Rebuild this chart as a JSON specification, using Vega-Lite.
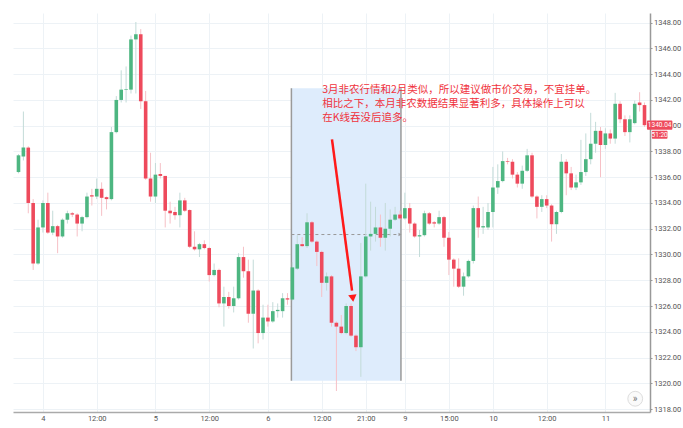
{
  "$schema": "https://vega.github.io/schema/vega-lite/v6.json",
  "width": 637,
  "height": 399,
  "autosize": {"type": "none"},
  "padding": {"left": 13, "top": 13, "right": 33, "bottom": 16},
  "background": "white",
  "config": {
    "view": {"stroke": null},
    "font": "Roboto",
    "axis": {"labelFont": "Roboto", "labelFontSize": 7.5, "labelColor": "#555", "gridColor": "#edf2f6", "gridWidth": 1, "labelOverlap": false}
  },
  "datasets": {
    "candles": [
      {"i":1,"o":1336.4,"c":1337.7,"h":1337.8,"l":1336.3},
      {"i":2,"o":1337.6,"c":1338.3,"h":1341.1,"l":1337.3},
      {"i":3,"o":1338.3,"c":1334.0,"h":1338.4,"l":1333.2},
      {"i":4,"o":1334.0,"c":1329.3,"h":1334.3,"l":1328.8},
      {"i":5,"o":1329.3,"c":1332.1,"h":1332.7,"l":1329.2},
      {"i":6,"o":1332.1,"c":1334.0,"h":1334.2,"l":1331.7},
      {"i":7,"o":1334.0,"c":1331.7,"h":1334.8,"l":1331.6},
      {"i":8,"o":1331.7,"c":1332.2,"h":1333.4,"l":1331.5},
      {"i":9,"o":1332.2,"c":1331.4,"h":1332.3,"l":1330.1},
      {"i":10,"o":1331.4,"c":1332.7,"h":1332.8,"l":1331.3},
      {"i":11,"o":1332.7,"c":1333.2,"h":1333.4,"l":1332.4},
      {"i":12,"o":1333.2,"c":1333.1,"h":1333.3,"l":1332.9},
      {"i":13,"o":1333.1,"c":1332.4,"h":1333.2,"l":1331.4},
      {"i":14,"o":1332.4,"c":1332.9,"h":1333.0,"l":1331.8},
      {"i":15,"o":1332.9,"c":1334.5,"h":1334.8,"l":1332.8},
      {"i":16,"o":1334.6,"c":1334.5,"h":1335.1,"l":1333.8},
      {"i":17,"o":1334.5,"c":1335.1,"h":1335.9,"l":1334.3},
      {"i":18,"o":1335.1,"c":1334.4,"h":1335.6,"l":1333.0},
      {"i":19,"o":1334.45,"c":1334.3,"h":1334.5,"l":1333.5},
      {"i":20,"o":1334.3,"c":1339.5,"h":1339.9,"l":1334.2},
      {"i":21,"o":1339.5,"c":1342.0,"h":1342.3,"l":1339.4},
      {"i":22,"o":1342.0,"c":1342.8,"h":1344.3,"l":1341.8},
      {"i":23,"o":1342.8,"c":1342.85,"h":1344.6,"l":1341.8},
      {"i":24,"o":1342.8,"c":1346.7,"h":1347.0,"l":1342.5},
      {"i":25,"o":1346.7,"c":1347.1,"h":1348.05,"l":1342.5},
      {"i":26,"o":1347.1,"c":1341.9,"h":1347.5,"l":1341.3},
      {"i":27,"o":1341.9,"c":1335.9,"h":1342.7,"l":1335.8},
      {"i":28,"o":1335.9,"c":1334.5,"h":1337.9,"l":1334.1},
      {"i":29,"o":1334.5,"c":1336.2,"h":1337.1,"l":1334.0},
      {"i":30,"o":1336.25,"c":1336.1,"h":1337.1,"l":1335.9},
      {"i":31,"o":1336.1,"c":1333.4,"h":1336.1,"l":1332.1},
      {"i":32,"o":1333.4,"c":1333.2,"h":1334.1,"l":1332.4},
      {"i":33,"o":1333.3,"c":1333.05,"h":1333.7,"l":1332.7},
      {"i":34,"o":1333.05,"c":1334.2,"h":1334.8,"l":1332.1},
      {"i":35,"o":1334.2,"c":1333.4,"h":1334.4,"l":1333.3},
      {"i":36,"o":1333.45,"c":1330.6,"h":1333.5,"l":1330.5},
      {"i":37,"o":1330.6,"c":1330.4,"h":1331.8,"l":1330.3},
      {"i":38,"o":1330.4,"c":1330.8,"h":1330.9,"l":1329.8},
      {"i":39,"o":1330.8,"c":1330.5,"h":1331.1,"l":1330.4},
      {"i":40,"o":1330.5,"c":1328.4,"h":1330.6,"l":1327.9},
      {"i":41,"o":1328.4,"c":1328.8,"h":1329.3,"l":1328.3},
      {"i":42,"o":1328.8,"c":1326.2,"h":1328.9,"l":1325.9},
      {"i":43,"o":1326.2,"c":1326.7,"h":1327.5,"l":1324.4},
      {"i":44,"o":1326.7,"c":1326.0,"h":1327.1,"l":1325.8},
      {"i":45,"o":1326.0,"c":1326.6,"h":1327.5,"l":1325.5},
      {"i":46,"o":1326.6,"c":1329.8,"h":1330.1,"l":1326.5},
      {"i":47,"o":1329.8,"c":1328.7,"h":1330.6,"l":1328.2},
      {"i":48,"o":1328.7,"c":1325.4,"h":1329.6,"l":1324.7},
      {"i":49,"o":1325.4,"c":1327.2,"h":1329.6,"l":1322.7},
      {"i":50,"o":1327.2,"c":1323.9,"h":1327.3,"l":1323.1},
      {"i":51,"o":1323.9,"c":1325.1,"h":1326.1,"l":1323.4},
      {"i":52,"o":1325.1,"c":1324.8,"h":1326.1,"l":1324.4},
      {"i":53,"o":1324.8,"c":1325.6,"h":1326.3,"l":1324.7},
      {"i":54,"o":1325.6,"c":1325.7,"h":1326.2,"l":1325.1},
      {"i":55,"o":1325.6,"c":1326.6,"h":1327.0,"l":1325.1},
      {"i":56,"o":1326.6,"c":1326.5,"h":1327.0,"l":1326.1},
      {"i":57,"o":1326.5,"c":1329.0,"h":1329.4,"l":1326.4},
      {"i":58,"o":1328.9,"c":1330.8,"h":1331.5,"l":1328.8},
      {"i":59,"o":1330.8,"c":1330.65,"h":1331.35,"l":1330.6},
      {"i":60,"o":1330.65,"c":1332.5,"h":1333.2,"l":1330.5},
      {"i":61,"o":1332.5,"c":1331.0,"h":1332.6,"l":1330.9},
      {"i":62,"o":1331.0,"c":1330.2,"h":1331.1,"l":1329.1},
      {"i":63,"o":1330.2,"c":1327.8,"h":1330.3,"l":1326.7},
      {"i":64,"o":1327.8,"c":1328.3,"h":1328.6,"l":1327.2},
      {"i":65,"o":1328.3,"c":1324.7,"h":1328.4,"l":1324.4},
      {"i":66,"o":1324.7,"c":1324.4,"h":1324.8,"l":1319.4},
      {"i":67,"o":1324.4,"c":1323.9,"h":1325.3,"l":1323.8},
      {"i":68,"o":1323.9,"c":1326.0,"h":1326.2,"l":1323.8},
      {"i":69,"o":1326.0,"c":1323.7,"h":1326.2,"l":1323.6},
      {"i":70,"o":1323.7,"c":1322.8,"h":1323.8,"l":1322.5},
      {"i":71,"o":1322.8,"c":1328.3,"h":1330.9,"l":1320.5},
      {"i":72,"o":1328.3,"c":1331.4,"h":1335.5,"l":1328.2},
      {"i":73,"o":1331.4,"c":1331.6,"h":1334.1,"l":1330.3},
      {"i":74,"o":1331.6,"c":1332.1,"h":1333.7,"l":1331.0},
      {"i":75,"o":1332.1,"c":1331.3,"h":1333.1,"l":1330.6},
      {"i":76,"o":1331.3,"c":1332.0,"h":1334.0,"l":1330.3},
      {"i":77,"o":1332.0,"c":1332.7,"h":1333.5,"l":1331.4},
      {"i":78,"o":1332.7,"c":1333.1,"h":1333.7,"l":1332.6},
      {"i":79,"o":1333.1,"c":1332.8,"h":1333.4,"l":1332.7},
      {"i":80,"o":1332.8,"c":1333.6,"h":1334.8,"l":1332.7},
      {"i":81,"o":1333.6,"c":1332.4,"h":1334.0,"l":1331.7},
      {"i":82,"o":1332.4,"c":1331.4,"h":1332.5,"l":1331.3},
      {"i":83,"o":1331.4,"c":1331.5,"h":1331.9,"l":1329.8},
      {"i":84,"o":1331.5,"c":1333.2,"h":1333.4,"l":1331.4},
      {"i":85,"o":1333.2,"c":1332.4,"h":1333.3,"l":1332.3},
      {"i":86,"o":1332.5,"c":1332.4,"h":1332.6,"l":1332.1},
      {"i":87,"o":1332.4,"c":1332.9,"h":1333.4,"l":1332.3},
      {"i":88,"o":1332.9,"c":1331.3,"h":1333.0,"l":1330.6},
      {"i":89,"o":1331.3,"c":1329.6,"h":1331.75,"l":1328.4},
      {"i":90,"o":1329.6,"c":1328.9,"h":1329.7,"l":1327.5},
      {"i":91,"o":1328.9,"c":1327.5,"h":1329.7,"l":1327.4},
      {"i":92,"o":1327.5,"c":1328.3,"h":1328.6,"l":1326.8},
      {"i":93,"o":1328.3,"c":1329.5,"h":1329.6,"l":1328.2},
      {"i":94,"o":1329.5,"c":1333.6,"h":1333.8,"l":1329.3},
      {"i":95,"o":1333.6,"c":1332.1,"h":1334.5,"l":1331.3},
      {"i":96,"o":1332.1,"c":1332.2,"h":1333.7,"l":1331.6},
      {"i":97,"o":1332.1,"c":1333.3,"h":1334.0,"l":1331.9},
      {"i":98,"o":1333.3,"c":1335.2,"h":1336.8,"l":1332.1},
      {"i":99,"o":1335.2,"c":1335.7,"h":1337.0,"l":1334.7},
      {"i":100,"o":1335.7,"c":1337.25,"h":1338.0,"l":1335.6},
      {"i":101,"o":1337.25,"c":1337.2,"h":1337.5,"l":1337.0},
      {"i":102,"o":1337.2,"c":1336.2,"h":1337.4,"l":1335.9},
      {"i":103,"o":1336.2,"c":1335.5,"h":1336.4,"l":1335.2},
      {"i":104,"o":1335.5,"c":1336.5,"h":1336.9,"l":1335.1},
      {"i":105,"o":1336.5,"c":1337.7,"h":1338.2,"l":1336.4},
      {"i":106,"o":1337.7,"c":1334.5,"h":1337.9,"l":1334.4},
      {"i":107,"o":1334.5,"c":1333.7,"h":1334.6,"l":1332.8},
      {"i":108,"o":1333.7,"c":1334.3,"h":1334.6,"l":1333.3},
      {"i":109,"o":1334.3,"c":1333.8,"h":1334.6,"l":1333.6},
      {"i":110,"o":1333.8,"c":1332.35,"h":1333.9,"l":1331.0},
      {"i":111,"o":1332.35,"c":1333.3,"h":1333.4,"l":1331.6},
      {"i":112,"o":1333.3,"c":1337.2,"h":1337.8,"l":1333.2},
      {"i":113,"o":1337.2,"c":1336.3,"h":1337.4,"l":1334.6},
      {"i":114,"o":1336.3,"c":1335.2,"h":1336.8,"l":1335.0},
      {"i":115,"o":1335.2,"c":1335.6,"h":1336.2,"l":1335.0},
      {"i":116,"o":1335.6,"c":1336.4,"h":1338.9,"l":1335.4},
      {"i":117,"o":1336.4,"c":1337.4,"h":1339.4,"l":1336.1},
      {"i":118,"o":1337.4,"c":1338.6,"h":1341.0,"l":1337.0},
      {"i":119,"o":1338.6,"c":1339.6,"h":1340.3,"l":1337.9},
      {"i":120,"o":1339.6,"c":1338.5,"h":1339.9,"l":1336.0},
      {"i":121,"o":1338.5,"c":1339.4,"h":1339.8,"l":1338.2},
      {"i":122,"o":1339.4,"c":1339.0,"h":1339.7,"l":1338.6},
      {"i":123,"o":1339.0,"c":1341.7,"h":1342.55,"l":1338.6},
      {"i":124,"o":1341.7,"c":1340.5,"h":1341.9,"l":1340.2},
      {"i":125,"o":1340.5,"c":1339.5,"h":1340.8,"l":1339.2},
      {"i":126,"o":1339.5,"c":1340.5,"h":1340.8,"l":1338.7},
      {"i":127,"o":1340.2,"c":1341.7,"h":1341.95,"l":1340.1},
      {"i":128,"o":1341.8,"c":1341.6,"h":1342.6,"l":1341.1},
      {"i":129,"o":1341.6,"c":1340.04,"h":1341.8,"l":1339.9}
    ],
    "box": [{"x1": 56.8, "x2": 79.2, "y1": 1320.2, "y2": 1342.9}],
    "dash": [{"x1": 56.8, "x2": 79.0, "y": 1331.55}],
    "arrow": [{"x": 65.1, "y": 1338.94, "k": 0}, {"x": 69.2, "y": 1327.2, "k": 1}],
    "head": [{"x": 69.35, "y": 1326.6}],
    "note": [
      {"x": 63.1, "y": 1342.78, "t": "3月非农行情和2月类似，所以建议做市价交易，不宜挂单。"},
      {"x": 63.1, "y": 1341.70, "t": "相比之下，本月非农数据结果显著利多，具体操作上可以"},
      {"x": 63.1, "y": 1340.61, "t": "在K线吞没后追多。"}
    ],
    "tags": [
      {"x1": 129.5, "x2": 134.7, "y1": 1340.4, "y2": 1339.68, "xm": 132.1, "ym": 1340.04, "t": "1340.04"},
      {"x1": 130.5, "x2": 133.7, "y1": 1339.6, "y2": 1338.98, "xm": 132.1, "ym": 1339.29, "t": "51:20"}
    ],
    "btn": [{"x": 127.1, "y": 1318.8}]
  },
  "layer": [
    {
      "data": {"name": "box"},
      "mark": {"type": "rect", "color": "#deecfc"},
      "encoding": {
        "x": {"field": "x1", "type": "quantitative", "scale": {"domain": [0.9, 129.1], "nice": false, "zero": false},
          "axis": {"values": [6,17,29,40,52,63,72,80,89,98,109,121], "tickCount": 40, "labelExpr": "['4','12:00','5','12:00','6','12:00','21:00','9','15:00','10','12:00','11'][indexof([6,17,29,40,52,63,72,80,89,98,109,121], datum.value)]", "title": null, "grid": true, "ticks": false, "domainColor": "#aaa", "domainWidth": 1.5, "labelPadding": 2, "labelFlush": false, "labelOverlap": false}},
        "x2": {"field": "x2"},
        "y": {"field": "y1", "type": "quantitative", "scale": {"domain": [1317.77, 1348.75], "nice": false, "zero": false},
          "axis": {"orient": "right", "values": [1318,1320,1322,1324,1326,1328,1330,1332,1334,1336,1338,1340,1342,1344,1346,1348], "tickCount": 40, "format": ".2f", "title": null, "grid": true, "ticks": true, "tickSize": 2, "tickColor": "#999", "domainColor": "#999", "domainWidth": 1.5, "labelPadding": 1.5, "labelOverlap": false, "labelFlush": false}},
        "y2": {"field": "y2"}
      }
    },
    {
      "data": {"name": "box"},
      "mark": {"type": "rule", "color": "#9a9a9a", "strokeWidth": 1.5},
      "encoding": {"x": {"field": "x1", "type": "quantitative"}, "y": {"field": "y1", "type": "quantitative"}, "y2": {"field": "y2"}}
    },
    {
      "data": {"name": "box"},
      "mark": {"type": "rule", "color": "#9a9a9a", "strokeWidth": 1.5},
      "encoding": {"x": {"field": "x2", "type": "quantitative"}, "y": {"field": "y1", "type": "quantitative"}, "y2": {"field": "y2"}}
    },
    {
      "data": {"name": "dash"},
      "mark": {"type": "rule", "color": "#999", "strokeWidth": 1, "strokeDash": [3, 3]},
      "encoding": {"x": {"field": "x1", "type": "quantitative"}, "x2": {"field": "x2"}, "y": {"field": "y", "type": "quantitative"}}
    },
    {
      "data": {"name": "dash"},
      "mark": {"type": "point", "shape": "triangle-right", "filled": true, "color": "#999", "size": 12, "opacity": 1},
      "encoding": {"x": {"field": "x2", "type": "quantitative"}, "y": {"field": "y", "type": "quantitative"}}
    },
    {
      "data": {"name": "candles"},
      "mark": {"type": "rule", "strokeWidth": 1, "clip": true},
      "encoding": {
        "x": {"field": "i", "type": "quantitative"},
        "y": {"field": "l", "type": "quantitative"},
        "y2": {"field": "h"},
        "color": {"condition": {"test": "datum.c >= datum.o", "value": "#c3dbd8"}, "value": "#f6c0c6"}
      }
    },
    {
      "data": {"name": "candles"},
      "mark": {"type": "bar", "size": 3.6, "clip": true},
      "encoding": {
        "x": {"field": "i", "type": "quantitative"},
        "y": {"field": "o", "type": "quantitative"},
        "y2": {"field": "c"},
        "color": {"condition": {"test": "datum.c >= datum.o", "value": "#4db681"}, "value": "#ee4a5c"}
      }
    },
    {
      "data": {"name": "arrow"},
      "mark": {"type": "line", "color": "#ff1a1a", "strokeWidth": 2.5},
      "encoding": {"x": {"field": "x", "type": "quantitative"}, "y": {"field": "y", "type": "quantitative"}, "order": {"field": "k"}}
    },
    {
      "data": {"name": "head"},
      "mark": {"type": "point", "shape": "triangle-down", "filled": true, "color": "#ff1a1a", "size": 70, "angle": 353, "opacity": 1},
      "encoding": {"x": {"field": "x", "type": "quantitative"}, "y": {"field": "y", "type": "quantitative"}}
    },
    {
      "data": {"name": "note"},
      "mark": {"type": "text", "align": "left", "baseline": "middle", "font": "Noto Sans CJK SC", "fontSize": 10.5, "color": "#f0323c"},
      "encoding": {"x": {"field": "x", "type": "quantitative"}, "y": {"field": "y", "type": "quantitative"}, "text": {"field": "t"}}
    },
    {
      "data": {"name": "tags"},
      "mark": {"type": "rect", "color": "#ee4a5c", "cornerRadius": 1},
      "encoding": {"x": {"field": "x1", "type": "quantitative"}, "x2": {"field": "x2"}, "y": {"field": "y1", "type": "quantitative"}, "y2": {"field": "y2"}}
    },
    {
      "data": {"name": "tags"},
      "mark": {"type": "text", "align": "center", "baseline": "middle", "fontSize": 6.5, "color": "white", "font": "Roboto"},
      "encoding": {"x": {"field": "xm", "type": "quantitative"}, "y": {"field": "ym", "type": "quantitative"}, "text": {"field": "t"}}
    },
    {
      "data": {"name": "btn"},
      "mark": {"type": "point", "shape": "circle", "filled": true, "fill": "#fafafa", "stroke": "#dddddd", "strokeWidth": 1, "size": 220, "opacity": 1},
      "encoding": {"x": {"field": "x", "type": "quantitative"}, "y": {"field": "y", "type": "quantitative"}}
    },
    {
      "data": {"name": "btn"},
      "mark": {"type": "text", "align": "center", "baseline": "middle", "fontSize": 10, "color": "#777", "text": "»"},
      "encoding": {"x": {"field": "x", "type": "quantitative"}, "y": {"field": "y", "type": "quantitative"}}
    }
  ]
}
